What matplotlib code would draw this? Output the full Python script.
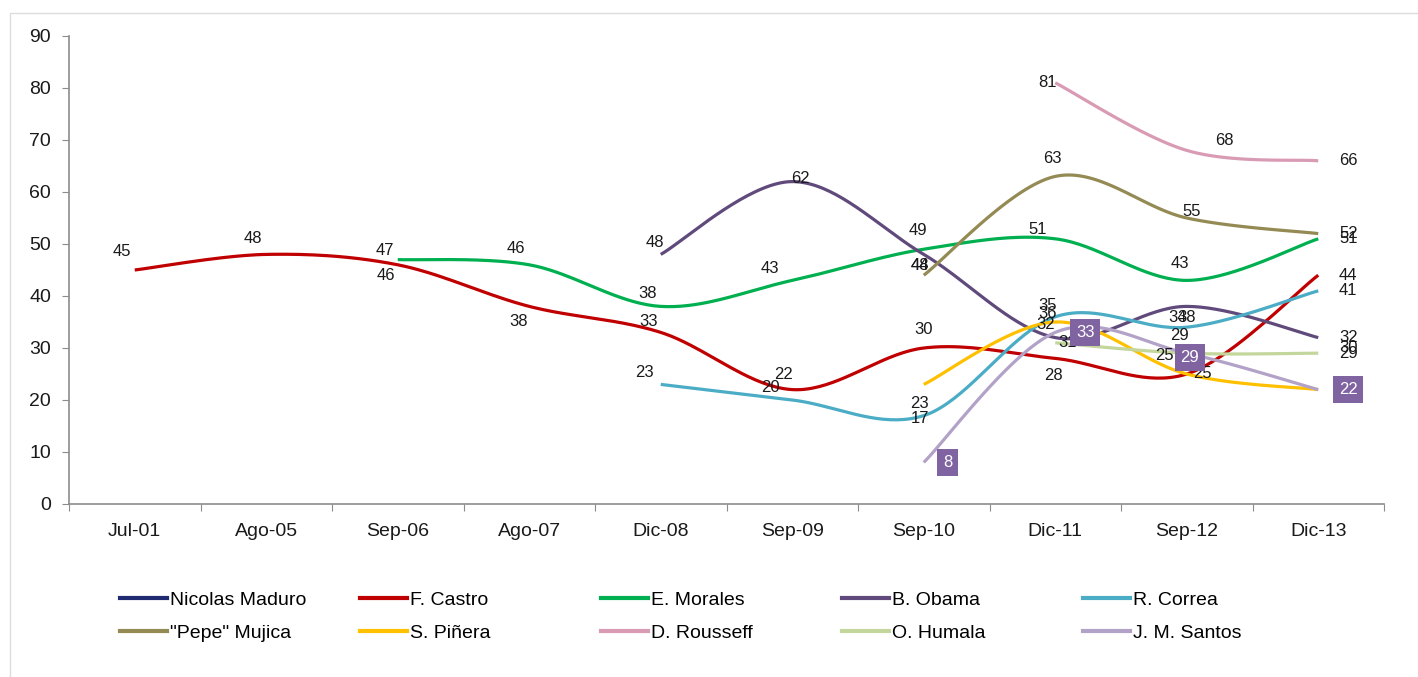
import numpy as np
import matplotlib.pyplot as plt
from matplotlib.patches import Rectangle
from matplotlib.lines import Line2D

plt.rcParams['font.family'] = ['Liberation Sans', 'DejaVu Sans']

# datos
categories = ['Jul-01', 'Ago-05', 'Sep-06', 'Ago-07', 'Dic-08',
              'Sep-09', 'Sep-10', 'Dic-11', 'Sep-12', 'Dic-13']
nan = np.nan
maduro = [nan, nan, nan, nan, nan, nan, nan, nan, nan, 30]
castro = [45, 48, 46, 38, 33, 22, 30, 28, 25, 44]
morales = [nan, nan, 47, 46, 38, 43, 49, 51, 43, 51]
obama = [nan, nan, nan, nan, 48, 62, 48, 32, 38, 32]
correa = [nan, nan, nan, nan, 23, 20, 17, 36, 34, 41]
mujica = [nan, nan, nan, nan, nan, nan, 44, 63, 55, 52]
pinera = [nan, nan, nan, nan, nan, nan, 23, 35, 25, 22]
rousseff = [nan, nan, nan, nan, nan, nan, nan, 81, 68, 66]
humala = [nan, nan, nan, nan, nan, nan, nan, 31, 29, 29]
santos = [nan, nan, nan, nan, nan, nan, 8, 33, 29, 22]

names = ['Nicolas Maduro', 'F. Castro', 'E. Morales', 'B. Obama', 'R. Correa',
         '"Pepe" Mujica', 'S. Piñera', 'D. Rousseff', 'O. Humala', 'J. M. Santos']
series = [maduro, castro, morales, obama, correa,
          mujica, pinera, rousseff, humala, santos]
colors = ['#1f2a70', '#c00000', '#00b050', '#604a7b', '#4bacc6',
          '#948a54', '#ffc000', '#d99bb4', '#c3d69b', '#b3a2c7']

# posicion de etiquetas (pixeles respecto al punto), una por valor
R = (30, 0)
label_offsets = {
    'Nicolas Maduro': [R],
    'F. Castro': [(-13, 18), (-13, 16), (-12, -11), (-11, -15), (-12, 11),
                  (-9, 15), (0, 19), (-2, -17), (16, 0), R],
    'E. Morales': [(-13, 9), (-13, 16), (-13, 13), (-22, 12), (-6, 19),
                   (-18, 9), (-7, 17), R],
    'B. Obama': [(-6, 12), (8, 3), (-4, -11), (-10, 13), (0, -11), R],
    'R. Correa': [(-16, 12), (-22, 13), (-4, -3), (-8, 3), (-9, 10), R],
    '"Pepe" Mujica': [(-4, 10), (-3, 18), (5, 6), R],
    'S. Piñera': [(-4, -19), (-8, 16), (-22, 19), R],
    'D. Rousseff': [(-8, 0), (38, 10), R],
    'O. Humala': [(12, 0), (-7, 18), R],
    'J. M. Santos': [(24, 0), (30, 0), (3, -4), R],
}
boxed = 'J. M. Santos'


def smooth(xs, ys, n=40):
    # curva suavizada tipo Excel (Bezier con tangentes Catmull-Rom)
    P = np.column_stack([xs, ys]).astype(float)
    m = len(P)
    out = []
    t = np.linspace(0, 1, n)[:, None]
    for i in range(m - 1):
        p0 = P[i - 1] if i > 0 else P[i]
        p1, p2 = P[i], P[i + 1]
        p3 = P[i + 2] if i + 2 < m else P[i + 1]
        c1 = p1 + (p2 - p0) / 6
        c2 = p2 - (p3 - p1) / 6
        seg = (1 - t) ** 3 * p1 + 3 * (1 - t) ** 2 * t * c1 \
            + 3 * (1 - t) * t ** 2 * c2 + t ** 3 * p2
        out.append(seg if i == 0 else seg[1:])
    if not out:
        return P[:, 0], P[:, 1]
    out = np.vstack(out)
    return out[:, 0], out[:, 1]


W, H = 1418, 677
fig = plt.figure(figsize=(W / 100, H / 100), dpi=100)
fig.patches.append(Rectangle((10 / W, -0.1), 1.2, 1 - 13 / H + 0.1,
                             transform=fig.transFigure, fill=False,
                             ec='#dcdcdc', lw=1))

ax = fig.add_axes([69 / W, 1 - 504 / H, (1384 - 69) / W, (504 - 36) / H])
x = np.arange(len(categories))

handles = []
for name, vals, col in zip(names, series, colors):
    v = np.array(vals, dtype=float)
    ok = ~np.isnan(v)
    sx, sy = smooth(x[ok], v[ok])
    ax.plot(sx, sy, color=col, lw=2.3, solid_capstyle='butt', zorder=2)
    handles.append(Line2D([], [], color=col, lw=3))
    for (xi, yi), off in zip(zip(x[ok], v[ok]), label_offsets[name]):
        kw = dict(textcoords='offset pixels', xytext=off, ha='center',
                  va='center', fontsize=12, zorder=5)
        if name == boxed:
            ax.annotate(f'{yi:.0f}', (xi, yi), color='white',
                        bbox=dict(boxstyle='square,pad=0.35', fc='#8064a2',
                                  ec='none'), **kw)
        else:
            ax.annotate(f'{yi:.0f}', (xi, yi), color='#1a1a1a', **kw)

ax.set_xlim(-0.5, len(categories) - 0.5)
ax.set_ylim(0, 90)
ax.set_yticks(np.arange(0, 91, 10))
ax.set_xticks(np.arange(-0.5, len(categories), 1))
ax.set_xticklabels([])
ax.set_xticks(x, minor=True)
ax.set_xticklabels(categories, minor=True)

for s in ['top', 'right']:
    ax.spines[s].set_visible(False)
for s in ['left', 'bottom']:
    ax.spines[s].set_color('#8c8c8c')
    ax.spines[s].set_linewidth(1.2)
ax.tick_params(axis='y', direction='out', length=5, color='#8c8c8c',
               labelsize=14, labelcolor='#1a1a1a', pad=8)
ax.tick_params(axis='x', which='major', direction='out', length=5,
               color='#8c8c8c')
ax.tick_params(axis='x', which='minor', length=0, labelsize=14,
               labelcolor='#1a1a1a', pad=14)

# leyenda: 5 columnas x 2 filas
col_x = [120, 360, 601, 842, 1083]
for j in range(5):
    fig.legend(handles=[handles[j], handles[j + 5]],
               labels=[names[j], names[j + 5]],
               loc='upper left', bbox_to_anchor=(col_x[j] / W, 1 - 591 / H),
               frameon=False, fontsize=14, handlelength=2.4,
               handletextpad=0.15, borderpad=0, borderaxespad=0,
               labelspacing=0.8)

fig.savefig('out.png', dpi=100)
